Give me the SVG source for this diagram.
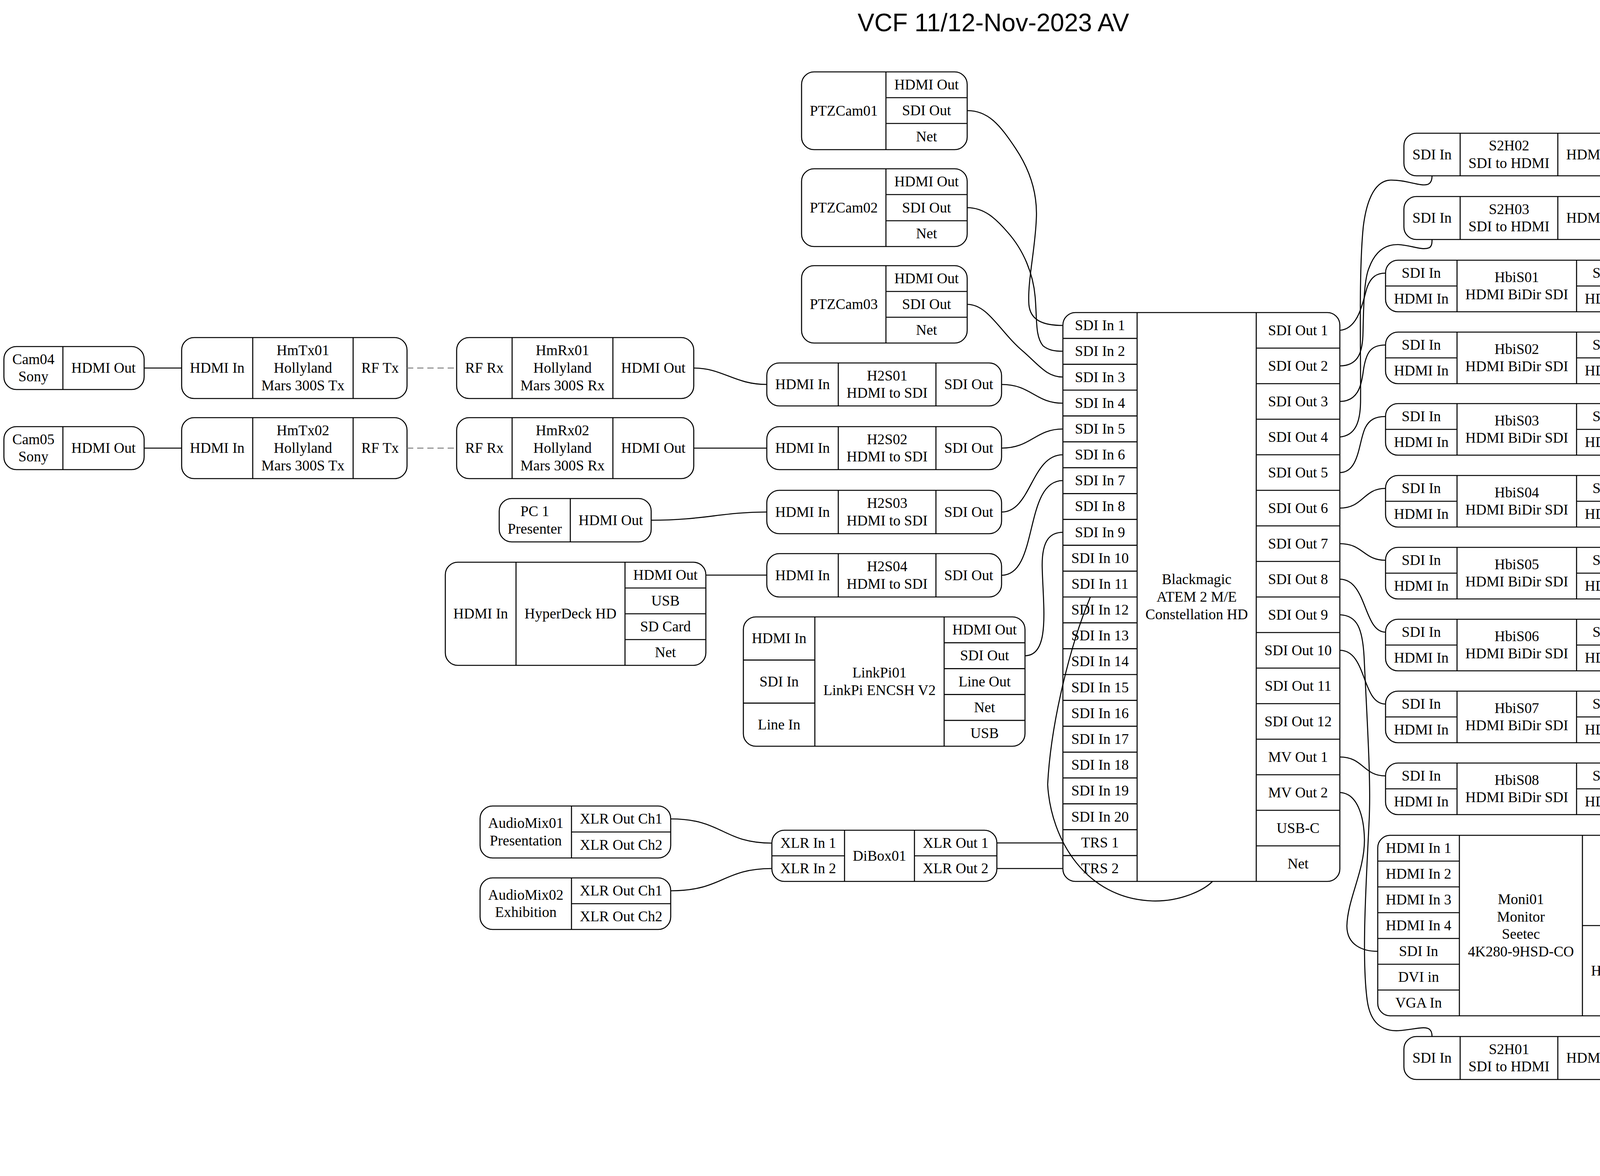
<svg xmlns="http://www.w3.org/2000/svg" width="5086" height="3010" viewBox="0 0 5086 3010">
<style>
.b{fill:none;stroke:#000;stroke-width:2.67}
.l{stroke:#000;stroke-width:2.67}
text{font-family:"Liberation Serif","Times New Roman",serif;font-size:37.33px;text-anchor:middle;fill:#000}
.t{font-family:"Liberation Sans",Arial,sans-serif;font-size:64px}
.e{fill:none;stroke:#000;stroke-width:2.67}
.d{fill:none;stroke:#808080;stroke-width:2.67;stroke-dasharray:16,10}
</style>
<rect width="5086" height="3010" fill="#fff"/>
<text class="t" x="2543" y="80">VCF 11/12-Nov-2023 AV</text>

<g id="Cam04"><rect class="b" x="10" y="887" width="359" height="110" rx="32"/><line class="l" x1="161" y1="887" x2="161" y2="997"/>
<text x="85.5" y="931.6">Cam04</text><text x="85.5" y="976.4">Sony</text><text x="265" y="954">HDMI Out</text></g>
<g id="Cam05"><rect class="b" x="10" y="1092" width="359" height="110" rx="32"/><line class="l" x1="161" y1="1092" x2="161" y2="1202"/>
<text x="85.5" y="1136.6">Cam05</text><text x="85.5" y="1181.4">Sony</text><text x="265" y="1159">HDMI Out</text></g>

<g id="HmTx01"><rect class="b" x="465" y="864" width="577" height="156" rx="32"/><line class="l" x1="647" y1="864" x2="647" y2="1020"/><line class="l" x1="904" y1="864" x2="904" y2="1020"/>
<text x="556" y="954">HDMI In</text><text x="775.5" y="909.2">HmTx01</text><text x="775.5" y="954">Hollyland</text><text x="775.5" y="998.8">Mars 300S Tx</text><text x="973" y="954">RF Tx</text></g>
<g id="HmTx02"><rect class="b" x="465" y="1069" width="577" height="156" rx="32"/><line class="l" x1="647" y1="1069" x2="647" y2="1225"/><line class="l" x1="904" y1="1069" x2="904" y2="1225"/>
<text x="556" y="1159">HDMI In</text><text x="775.5" y="1114.2">HmTx02</text><text x="775.5" y="1159">Hollyland</text><text x="775.5" y="1203.8">Mars 300S Tx</text><text x="973" y="1159">RF Tx</text></g>

<g id="HmRx01"><rect class="b" x="1169" y="864" width="607" height="156" rx="32"/><line class="l" x1="1311" y1="864" x2="1311" y2="1020"/><line class="l" x1="1569" y1="864" x2="1569" y2="1020"/>
<text x="1240" y="954">RF Rx</text><text x="1440" y="909.2">HmRx01</text><text x="1440" y="954">Hollyland</text><text x="1440" y="998.8">Mars 300S Rx</text><text x="1672.5" y="954">HDMI Out</text></g>
<g id="HmRx02"><rect class="b" x="1169" y="1069" width="607" height="156" rx="32"/><line class="l" x1="1311" y1="1069" x2="1311" y2="1225"/><line class="l" x1="1569" y1="1069" x2="1569" y2="1225"/>
<text x="1240" y="1159">RF Rx</text><text x="1440" y="1114.2">HmRx02</text><text x="1440" y="1159">Hollyland</text><text x="1440" y="1203.8">Mars 300S Rx</text><text x="1672.5" y="1159">HDMI Out</text></g>

<g id="PTZCam01"><rect class="b" x="2052" y="184" width="424" height="199" rx="32"/><line class="l" x1="2268" y1="184" x2="2268" y2="383"/><line class="l" x1="2268" y1="250" x2="2476" y2="250"/><line class="l" x1="2268" y1="316" x2="2476" y2="316"/>
<text x="2160" y="295.5">PTZCam01</text><text x="2372" y="229">HDMI Out</text><text x="2372" y="295">SDI Out</text><text x="2372" y="361.5">Net</text></g>
<g id="PTZCam02"><rect class="b" x="2052" y="432" width="424" height="199" rx="32"/><line class="l" x1="2268" y1="432" x2="2268" y2="631"/><line class="l" x1="2268" y1="498" x2="2476" y2="498"/><line class="l" x1="2268" y1="565" x2="2476" y2="565"/>
<text x="2160" y="543.5">PTZCam02</text><text x="2372" y="477">HDMI Out</text><text x="2372" y="543.5">SDI Out</text><text x="2372" y="610">Net</text></g>
<g id="PTZCam03"><rect class="b" x="2052" y="680" width="424" height="198" rx="32"/><line class="l" x1="2268" y1="680" x2="2268" y2="878"/><line class="l" x1="2268" y1="746" x2="2476" y2="746"/><line class="l" x1="2268" y1="812" x2="2476" y2="812"/>
<text x="2160" y="791">PTZCam03</text><text x="2372" y="725">HDMI Out</text><text x="2372" y="791">SDI Out</text><text x="2372" y="857">Net</text></g>

<g id="H2S01"><rect class="b" x="1963" y="929" width="601" height="110" rx="32"/><line class="l" x1="2146" y1="929" x2="2146" y2="1039"/><line class="l" x1="2396" y1="929" x2="2396" y2="1039"/>
<text x="2054.5" y="996">HDMI In</text><text x="2271" y="973.6">H2S01</text><text x="2271" y="1018.4">HDMI to SDI</text><text x="2480" y="996">SDI Out</text></g>
<g id="H2S02"><rect class="b" x="1963" y="1092" width="601" height="110" rx="32"/><line class="l" x1="2146" y1="1092" x2="2146" y2="1202"/><line class="l" x1="2396" y1="1092" x2="2396" y2="1202"/>
<text x="2054.5" y="1159">HDMI In</text><text x="2271" y="1136.6">H2S02</text><text x="2271" y="1181.4">HDMI to SDI</text><text x="2480" y="1159">SDI Out</text></g>
<g id="H2S03"><rect class="b" x="1963" y="1255" width="601" height="111" rx="32"/><line class="l" x1="2146" y1="1255" x2="2146" y2="1366"/><line class="l" x1="2396" y1="1255" x2="2396" y2="1366"/>
<text x="2054.5" y="1322.5">HDMI In</text><text x="2271" y="1300.1">H2S03</text><text x="2271" y="1344.9">HDMI to SDI</text><text x="2480" y="1322.5">SDI Out</text></g>
<g id="H2S04"><rect class="b" x="1963" y="1417" width="601" height="111" rx="32"/><line class="l" x1="2146" y1="1417" x2="2146" y2="1528"/><line class="l" x1="2396" y1="1417" x2="2396" y2="1528"/>
<text x="2054.5" y="1484.5">HDMI In</text><text x="2271" y="1462.1">H2S04</text><text x="2271" y="1506.9">HDMI to SDI</text><text x="2480" y="1484.5">SDI Out</text></g>

<g id="PC1"><rect class="b" x="1278" y="1276" width="389" height="111" rx="32"/><line class="l" x1="1460" y1="1276" x2="1460" y2="1387"/>
<text x="1369" y="1321.1">PC 1</text><text x="1369" y="1365.9">Presenter</text><text x="1563.5" y="1343.5">HDMI Out</text></g>

<g id="HyperDeck"><rect class="b" x="1140" y="1439" width="667" height="264" rx="32"/><line class="l" x1="1321" y1="1439" x2="1321" y2="1703"/><line class="l" x1="1600" y1="1439" x2="1600" y2="1703"/>
<line class="l" x1="1600" y1="1505" x2="1807" y2="1505"/><line class="l" x1="1600" y1="1571" x2="1807" y2="1571"/><line class="l" x1="1600" y1="1637" x2="1807" y2="1637"/>
<text x="1230.5" y="1583">HDMI In</text><text x="1460.5" y="1583">HyperDeck HD</text><text x="1703.5" y="1484">HDMI Out</text><text x="1703.5" y="1550">USB</text><text x="1703.5" y="1616">SD Card</text><text x="1703.5" y="1682">Net</text></g>

<g id="LinkPi01"><rect class="b" x="1903" y="1579" width="721" height="331" rx="32"/><line class="l" x1="2086" y1="1579" x2="2086" y2="1910"/><line class="l" x1="2417" y1="1579" x2="2417" y2="1910"/>
<line class="l" x1="1903" y1="1689.3" x2="2086" y2="1689.3"/><line class="l" x1="1903" y1="1799.7" x2="2086" y2="1799.7"/>
<line class="l" x1="2417" y1="1645.2" x2="2624" y2="1645.2"/><line class="l" x1="2417" y1="1711.4" x2="2624" y2="1711.4"/><line class="l" x1="2417" y1="1777.6" x2="2624" y2="1777.6"/><line class="l" x1="2417" y1="1843.8" x2="2624" y2="1843.8"/>
<text x="1994.5" y="1646">HDMI In</text><text x="1994.5" y="1756.5">SDI In</text><text x="1994.5" y="1867">Line In</text>
<text x="2251.5" y="1734.1">LinkPi01</text><text x="2251.5" y="1778.9">LinkPi ENCSH V2</text>
<text x="2520.5" y="1624.1">HDMI Out</text><text x="2520.5" y="1690.3">SDI Out</text><text x="2520.5" y="1756.5">Line Out</text><text x="2520.5" y="1822.7">Net</text><text x="2520.5" y="1888.9">USB</text></g>

<g id="ATEM2ME"><rect class="b" x="2721" y="800" width="709" height="1456" rx="32"/><line class="l" x1="2911" y1="800" x2="2911" y2="2256"/><line class="l" x1="3216" y1="800" x2="3216" y2="2256"/>
<g class="l">
<line x1="2721" y1="866.2" x2="2911" y2="866.2"/><line x1="2721" y1="932.4" x2="2911" y2="932.4"/><line x1="2721" y1="998.5" x2="2911" y2="998.5"/><line x1="2721" y1="1064.7" x2="2911" y2="1064.7"/><line x1="2721" y1="1130.9" x2="2911" y2="1130.9"/><line x1="2721" y1="1197.1" x2="2911" y2="1197.1"/><line x1="2721" y1="1263.3" x2="2911" y2="1263.3"/><line x1="2721" y1="1329.4" x2="2911" y2="1329.4"/><line x1="2721" y1="1395.6" x2="2911" y2="1395.6"/><line x1="2721" y1="1461.8" x2="2911" y2="1461.8"/><line x1="2721" y1="1528" x2="2911" y2="1528"/><line x1="2721" y1="1594.2" x2="2911" y2="1594.2"/><line x1="2721" y1="1660.3" x2="2911" y2="1660.3"/><line x1="2721" y1="1726.5" x2="2911" y2="1726.5"/><line x1="2721" y1="1792.7" x2="2911" y2="1792.7"/><line x1="2721" y1="1858.9" x2="2911" y2="1858.9"/><line x1="2721" y1="1925.1" x2="2911" y2="1925.1"/><line x1="2721" y1="1991.2" x2="2911" y2="1991.2"/><line x1="2721" y1="2057.4" x2="2911" y2="2057.4"/><line x1="2721" y1="2123.6" x2="2911" y2="2123.6"/><line x1="2721" y1="2189.8" x2="2911" y2="2189.8"/>
<line x1="3216" y1="891" x2="3430" y2="891"/><line x1="3216" y1="982" x2="3430" y2="982"/><line x1="3216" y1="1073" x2="3430" y2="1073"/><line x1="3216" y1="1164" x2="3430" y2="1164"/><line x1="3216" y1="1255" x2="3430" y2="1255"/><line x1="3216" y1="1346" x2="3430" y2="1346"/><line x1="3216" y1="1437" x2="3430" y2="1437"/><line x1="3216" y1="1528" x2="3430" y2="1528"/><line x1="3216" y1="1619" x2="3430" y2="1619"/><line x1="3216" y1="1710" x2="3430" y2="1710"/><line x1="3216" y1="1801" x2="3430" y2="1801"/><line x1="3216" y1="1892" x2="3430" y2="1892"/><line x1="3216" y1="1983" x2="3430" y2="1983"/><line x1="3216" y1="2074" x2="3430" y2="2074"/><line x1="3216" y1="2165" x2="3430" y2="2165"/>
</g>
<text x="2816" y="845.1">SDI In 1</text><text x="2816" y="911.3">SDI In 2</text><text x="2816" y="977.5">SDI In 3</text><text x="2816" y="1043.6">SDI In 4</text><text x="2816" y="1109.8">SDI In 5</text><text x="2816" y="1176">SDI In 6</text><text x="2816" y="1242.2">SDI In 7</text><text x="2816" y="1308.4">SDI In 8</text><text x="2816" y="1374.5">SDI In 9</text><text x="2816" y="1440.7">SDI In 10</text><text x="2816" y="1506.9">SDI In 11</text><text x="2816" y="1573.1">SDI In 12</text><text x="2816" y="1639.3">SDI In 13</text><text x="2816" y="1705.4">SDI In 14</text><text x="2816" y="1771.6">SDI In 15</text><text x="2816" y="1837.8">SDI In 16</text><text x="2816" y="1904">SDI In 17</text><text x="2816" y="1970.2">SDI In 18</text><text x="2816" y="2036.3">SDI In 19</text><text x="2816" y="2102.5">SDI In 20</text><text x="2816" y="2168.7">TRS 1</text><text x="2816" y="2234.9">TRS 2</text>
<text x="3063.5" y="1495.2">Blackmagic</text><text x="3063.5" y="1540">ATEM 2 M/E</text><text x="3063.5" y="1584.8">Constellation HD</text>
<text x="3323" y="857.5">SDI Out 1</text><text x="3323" y="948.5">SDI Out 2</text><text x="3323" y="1039.5">SDI Out 3</text><text x="3323" y="1130.5">SDI Out 4</text><text x="3323" y="1221.5">SDI Out 5</text><text x="3323" y="1312.5">SDI Out 6</text><text x="3323" y="1403.5">SDI Out 7</text><text x="3323" y="1494.5">SDI Out 8</text><text x="3323" y="1585.5">SDI Out 9</text><text x="3323" y="1676.5">SDI Out 10</text><text x="3323" y="1767.5">SDI Out 11</text><text x="3323" y="1858.5">SDI Out 12</text><text x="3323" y="1949.5">MV Out 1</text><text x="3323" y="2040.5">MV Out 2</text><text x="3323" y="2131.5">USB-C</text><text x="3323" y="2222.5">Net</text></g>

<g id="AudioMix01"><rect class="b" x="1229" y="2063" width="488" height="133" rx="32"/><line class="l" x1="1463" y1="2063" x2="1463" y2="2196"/><line class="l" x1="1463" y1="2129.5" x2="1717" y2="2129.5"/>
<text x="1346" y="2119.1">AudioMix01</text><text x="1346" y="2163.9">Presentation</text><text x="1590" y="2108.2">XLR Out Ch1</text><text x="1590" y="2174.8">XLR Out Ch2</text></g>
<g id="AudioMix02"><rect class="b" x="1229" y="2247" width="488" height="132" rx="32"/><line class="l" x1="1463" y1="2247" x2="1463" y2="2379"/><line class="l" x1="1463" y1="2313" x2="1717" y2="2313"/>
<text x="1346" y="2302.6">AudioMix02</text><text x="1346" y="2347.4">Exhibition</text><text x="1590" y="2292">XLR Out Ch1</text><text x="1590" y="2358">XLR Out Ch2</text></g>
<g id="DiBox01"><rect class="b" x="1976" y="2125" width="576" height="131" rx="32"/><line class="l" x1="2162" y1="2125" x2="2162" y2="2256"/><line class="l" x1="2341" y1="2125" x2="2341" y2="2256"/>
<line class="l" x1="1976" y1="2190.5" x2="2162" y2="2190.5"/><line class="l" x1="2341" y1="2190.5" x2="2552" y2="2190.5"/>
<text x="2069" y="2169.8">XLR In 1</text><text x="2069" y="2235.2">XLR In 2</text><text x="2251.5" y="2202.5">DiBox01</text><text x="2446.5" y="2169.8">XLR Out 1</text><text x="2446.5" y="2235.2">XLR Out 2</text></g>

<g id="S2H02"><rect class="b" x="3594" y="341" width="602" height="109" rx="32"/><line class="l" x1="3738" y1="341" x2="3738" y2="450"/><line class="l" x1="3988" y1="341" x2="3988" y2="450"/>
<text x="3666" y="407.5">SDI In</text><text x="3863" y="385.1">S2H02</text><text x="3863" y="429.9">SDI to HDMI</text><text x="4092" y="407.5">HDMI Out</text></g>
<g id="S2H03"><rect class="b" x="3594" y="503" width="602" height="110" rx="32"/><line class="l" x1="3738" y1="503" x2="3738" y2="613"/><line class="l" x1="3988" y1="503" x2="3988" y2="613"/>
<text x="3666" y="570">SDI In</text><text x="3863" y="547.6">S2H03</text><text x="3863" y="592.4">SDI to HDMI</text><text x="4092" y="570">HDMI Out</text></g>
<g id="S2H01"><rect class="b" x="3594" y="2653" width="602" height="110" rx="32"/><line class="l" x1="3738" y1="2653" x2="3738" y2="2763"/><line class="l" x1="3988" y1="2653" x2="3988" y2="2763"/>
<text x="3666" y="2720">SDI In</text><text x="3863" y="2697.6">S2H01</text><text x="3863" y="2742.4">SDI to HDMI</text><text x="4092" y="2720">HDMI Out</text></g>
<g id="Beam01"><rect class="b" x="4511" y="341" width="415" height="109" rx="32"/><line class="l" x1="4694" y1="341" x2="4694" y2="450"/>
<text x="4602.5" y="407.5">HDMI In</text><text x="4810" y="385.1">Beam01</text><text x="4810" y="429.9">Pres Beamer</text></g>
<g id="Beam02"><rect class="b" x="4465" y="503" width="508" height="110" rx="32"/><line class="l" x1="4647" y1="503" x2="4647" y2="613"/>
<text x="4556" y="570">HDMI In</text><text x="4810" y="547.6">Beam02</text><text x="4810" y="592.4">Exhibition Beamer</text></g>

<g id="HbiS01"><rect class="b" x="3547" y="666" width="696" height="132" rx="32"/><line class="l" x1="3730" y1="666" x2="3730" y2="798"/><line class="l" x1="4036" y1="666" x2="4036" y2="798"/><line class="l" x1="3547" y1="732" x2="3730" y2="732"/><line class="l" x1="4036" y1="732" x2="4243" y2="732"/>
<text x="3638.5" y="711">SDI In</text><text x="3638.5" y="777">HDMI In</text><text x="3883" y="721.6">HbiS01</text><text x="3883" y="766.4">HDMI BiDir SDI</text><text x="4139.5" y="711">SDI Out</text><text x="4139.5" y="777">HDMI Out</text></g>
<g id="HbiS02"><rect class="b" x="3547" y="850" width="696" height="132" rx="32"/><line class="l" x1="3730" y1="850" x2="3730" y2="982"/><line class="l" x1="4036" y1="850" x2="4036" y2="982"/><line class="l" x1="3547" y1="916" x2="3730" y2="916"/><line class="l" x1="4036" y1="916" x2="4243" y2="916"/>
<text x="3638.5" y="895">SDI In</text><text x="3638.5" y="961">HDMI In</text><text x="3883" y="905.6">HbiS02</text><text x="3883" y="950.4">HDMI BiDir SDI</text><text x="4139.5" y="895">SDI Out</text><text x="4139.5" y="961">HDMI Out</text></g>
<g id="HbiS03"><rect class="b" x="3547" y="1033" width="696" height="132" rx="32"/><line class="l" x1="3730" y1="1033" x2="3730" y2="1165"/><line class="l" x1="4036" y1="1033" x2="4036" y2="1165"/><line class="l" x1="3547" y1="1099" x2="3730" y2="1099"/><line class="l" x1="4036" y1="1099" x2="4243" y2="1099"/>
<text x="3638.5" y="1078">SDI In</text><text x="3638.5" y="1144">HDMI In</text><text x="3883" y="1088.6">HbiS03</text><text x="3883" y="1133.4">HDMI BiDir SDI</text><text x="4139.5" y="1078">SDI Out</text><text x="4139.5" y="1144">HDMI Out</text></g>
<g id="HbiS04"><rect class="b" x="3547" y="1217" width="696" height="132" rx="32"/><line class="l" x1="3730" y1="1217" x2="3730" y2="1349"/><line class="l" x1="4036" y1="1217" x2="4036" y2="1349"/><line class="l" x1="3547" y1="1283" x2="3730" y2="1283"/><line class="l" x1="4036" y1="1283" x2="4243" y2="1283"/>
<text x="3638.5" y="1262">SDI In</text><text x="3638.5" y="1328">HDMI In</text><text x="3883" y="1272.6">HbiS04</text><text x="3883" y="1317.4">HDMI BiDir SDI</text><text x="4139.5" y="1262">SDI Out</text><text x="4139.5" y="1328">HDMI Out</text></g>
<g id="HbiS05"><rect class="b" x="3547" y="1401" width="696" height="132" rx="32"/><line class="l" x1="3730" y1="1401" x2="3730" y2="1533"/><line class="l" x1="4036" y1="1401" x2="4036" y2="1533"/><line class="l" x1="3547" y1="1467" x2="3730" y2="1467"/><line class="l" x1="4036" y1="1467" x2="4243" y2="1467"/>
<text x="3638.5" y="1446">SDI In</text><text x="3638.5" y="1512">HDMI In</text><text x="3883" y="1456.6">HbiS05</text><text x="3883" y="1501.4">HDMI BiDir SDI</text><text x="4139.5" y="1446">SDI Out</text><text x="4139.5" y="1512">HDMI Out</text></g>
<g id="HbiS06"><rect class="b" x="3547" y="1585" width="696" height="132" rx="32"/><line class="l" x1="3730" y1="1585" x2="3730" y2="1717"/><line class="l" x1="4036" y1="1585" x2="4036" y2="1717"/><line class="l" x1="3547" y1="1651" x2="3730" y2="1651"/><line class="l" x1="4036" y1="1651" x2="4243" y2="1651"/>
<text x="3638.5" y="1630">SDI In</text><text x="3638.5" y="1696">HDMI In</text><text x="3883" y="1640.6">HbiS06</text><text x="3883" y="1685.4">HDMI BiDir SDI</text><text x="4139.5" y="1630">SDI Out</text><text x="4139.5" y="1696">HDMI Out</text></g>
<g id="HbiS07"><rect class="b" x="3547" y="1769" width="696" height="132" rx="32"/><line class="l" x1="3730" y1="1769" x2="3730" y2="1901"/><line class="l" x1="4036" y1="1769" x2="4036" y2="1901"/><line class="l" x1="3547" y1="1835" x2="3730" y2="1835"/><line class="l" x1="4036" y1="1835" x2="4243" y2="1835"/>
<text x="3638.5" y="1814">SDI In</text><text x="3638.5" y="1880">HDMI In</text><text x="3883" y="1824.6">HbiS07</text><text x="3883" y="1869.4">HDMI BiDir SDI</text><text x="4139.5" y="1814">SDI Out</text><text x="4139.5" y="1880">HDMI Out</text></g>
<g id="HbiS08"><rect class="b" x="3547" y="1953" width="696" height="132" rx="32"/><line class="l" x1="3730" y1="1953" x2="3730" y2="2085"/><line class="l" x1="4036" y1="1953" x2="4036" y2="2085"/><line class="l" x1="3547" y1="2019" x2="3730" y2="2019"/><line class="l" x1="4036" y1="2019" x2="4243" y2="2019"/>
<text x="3638.5" y="1998">SDI In</text><text x="3638.5" y="2064">HDMI In</text><text x="3883" y="2008.6">HbiS08</text><text x="3883" y="2053.4">HDMI BiDir SDI</text><text x="4139.5" y="1998">SDI Out</text><text x="4139.5" y="2064">HDMI Out</text></g>

<g id="ATEMMini"><rect class="b" x="4380" y="1012" width="677" height="660" rx="32"/><line class="l" x1="4591" y1="1012" x2="4591" y2="1672"/><line class="l" x1="4821" y1="1012" x2="4821" y2="1672"/>
<g class="l"><line x1="4380" y1="1078" x2="4591" y2="1078"/><line x1="4380" y1="1144" x2="4591" y2="1144"/><line x1="4380" y1="1210" x2="4591" y2="1210"/><line x1="4380" y1="1276" x2="4591" y2="1276"/><line x1="4380" y1="1342" x2="4591" y2="1342"/><line x1="4380" y1="1408" x2="4591" y2="1408"/><line x1="4380" y1="1474" x2="4591" y2="1474"/><line x1="4380" y1="1540" x2="4591" y2="1540"/><line x1="4380" y1="1606" x2="4591" y2="1606"/>
<line x1="4821" y1="1122" x2="5057" y2="1122"/><line x1="4821" y1="1232" x2="5057" y2="1232"/><line x1="4821" y1="1342" x2="5057" y2="1342"/><line x1="4821" y1="1452" x2="5057" y2="1452"/><line x1="4821" y1="1562" x2="5057" y2="1562"/></g>
<text x="4485.5" y="1057">Mic 1</text><text x="4485.5" y="1123">Mic 2</text><text x="4485.5" y="1189">HDMI In 1</text><text x="4485.5" y="1255">HDMI In 2</text><text x="4485.5" y="1321">HDMI In 3</text><text x="4485.5" y="1387">HDMI In 4</text><text x="4485.5" y="1453">HDMI In 5</text><text x="4485.5" y="1519">HDMI In 6</text><text x="4485.5" y="1585">HDMI In 7</text><text x="4485.5" y="1651">HDMI In 8</text>
<text x="4706" y="1309.2">Blackmagic</text><text x="4706" y="1354">ATEM Mini</text><text x="4706" y="1398.8">Extr. Iso</text>
<text x="4939" y="1079">HDMI Out 1</text><text x="4939" y="1189">HDMI Out 2</text><text x="4939" y="1299">USB-C 1</text><text x="4939" y="1409">USB-C 2</text><text x="4939" y="1519">Net</text><text x="4939" y="1629">Headphone</text></g>

<g id="Moni01"><rect class="b" x="3527" y="2138" width="738" height="462" rx="32"/><line class="l" x1="3736" y1="2138" x2="3736" y2="2600"/><line class="l" x1="4051" y1="2138" x2="4051" y2="2600"/>
<g class="l"><line x1="3527" y1="2204" x2="3736" y2="2204"/><line x1="3527" y1="2270" x2="3736" y2="2270"/><line x1="3527" y1="2336" x2="3736" y2="2336"/><line x1="3527" y1="2402" x2="3736" y2="2402"/><line x1="3527" y1="2468" x2="3736" y2="2468"/><line x1="3527" y1="2534" x2="3736" y2="2534"/><line x1="4051" y1="2369" x2="4265" y2="2369"/></g>
<text x="3631.5" y="2183">HDMI In 1</text><text x="3631.5" y="2249">HDMI In 2</text><text x="3631.5" y="2315">HDMI In 3</text><text x="3631.5" y="2381">HDMI In 4</text><text x="3631.5" y="2447">SDI In</text><text x="3631.5" y="2513">DVI in</text><text x="3631.5" y="2579">VGA In</text>
<text x="3893.5" y="2313.8">Moni01</text><text x="3893.5" y="2358.6">Monitor</text><text x="3893.5" y="2403.4">Seetec</text><text x="3893.5" y="2448.2">4K280-9HSD-CO</text>
<text x="4158" y="2265.5">SDI Out</text><text x="4158" y="2496.5">Headphone</text></g>

<g id="Moni02"><rect class="b" x="4359" y="2669" width="717" height="330" rx="32"/><line class="l" x1="4571" y1="2669" x2="4571" y2="2999"/><line class="l" x1="4841" y1="2669" x2="4841" y2="2999"/>
<g class="l"><line x1="4359" y1="2751.5" x2="4571" y2="2751.5"/><line x1="4359" y1="2834" x2="4571" y2="2834"/><line x1="4359" y1="2916.5" x2="4571" y2="2916.5"/>
<line x1="4841" y1="2735" x2="5076" y2="2735"/><line x1="4841" y1="2801" x2="5076" y2="2801"/><line x1="4841" y1="2867" x2="5076" y2="2867"/><line x1="4841" y1="2933" x2="5076" y2="2933"/></g>
<text x="4465" y="2722.3">HDMI In 1</text><text x="4465" y="2804.8">HDMI In 2</text><text x="4465" y="2887.3">HDMI In 3</text><text x="4465" y="2969.8">HDMI In 4</text>
<text x="4706" y="2778.8">Moni02</text><text x="4706" y="2823.6">Monitor</text><text x="4706" y="2868.4">Seetec</text><text x="4706" y="2913.2">ATEM156-CO</text>
<text x="4958.5" y="2714">HDMI Out 1</text><text x="4958.5" y="2780">HDMI Out 2</text><text x="4958.5" y="2846">HDMI Out 3</text><text x="4958.5" y="2912">HDMI Out 4</text><text x="4958.5" y="2978">Headphone</text></g>

<g id="connectors">
<path class="e" d="M369,942 L465,942"/>
<path class="e" d="M369,1147 L465,1147"/>
<path class="d" d="M1042,942 L1169,942"/>
<path class="d" d="M1042,1147 L1169,1147"/>
<path class="e" d="M1776,942 C1850,942 1880,984 1963,984"/>
<path class="e" d="M1776,1147 L1963,1147"/>
<path class="e" d="M1667,1331.5 C1800,1331.5 1850,1310.5 1963,1310.5"/>
<path class="e" d="M1807,1472 L1963,1472"/>
<path class="e" d="M2476,283 C2530,283 2560,320 2600,380 C2640,440 2656,500 2653,560 C2650,640 2630,720 2634,780 C2638,820 2670,833 2721,833"/>
<path class="e" d="M2476,531.5 C2520,531.5 2550,560 2580,595 C2620,640 2645,700 2650,760 C2655,820 2650,860 2670,885 C2685,897 2700,899 2721,899"/>
<path class="e" d="M2476,779 C2530,779 2560,850 2620,900 C2660,935 2680,965 2721,965"/>
<path class="e" d="M2564,984 C2640,984 2650,1032 2721,1032"/>
<path class="e" d="M2564,1147 C2640,1147 2650,1098 2721,1098"/>
<path class="e" d="M2564,1310.5 C2640,1310.5 2640,1164 2721,1164"/>
<path class="e" d="M2564,1472.5 C2660,1472.5 2620,1230 2721,1230"/>
<path class="e" d="M2624,1678.3 C2690,1678.3 2670,1550 2668,1450 C2667,1380 2690,1362.5 2721,1362.5"/>
<path class="e" d="M2791,1529 C2740,1650 2690,1850 2682,2008 C2690,2150 2780,2300 2950,2306 C3020,2308 3080,2280 3104,2256"/>
<path class="e" d="M1717,2096 C1850,2096 1850,2158 1976,2158"/>
<path class="e" d="M1717,2280 C1850,2280 1850,2223 1976,2223"/>
<path class="e" d="M2552,2157.5 L2721,2157.5"/>
<path class="e" d="M2552,2223 L2721,2223"/>
<path class="e" d="M3430,845.5 C3480,842 3490,765 3500,735 C3510,708 3525,699 3547,699"/>
<path class="e" d="M3430,936.5 C3475,936 3487,905 3489,860 C3491,800 3490,720 3505,685 C3520,645 3545,625 3580,626 C3615,628 3640,642 3659,634 C3666,630 3666,620 3666,613"/>
<path class="e" d="M3430,1027.5 C3475,1027 3485,990 3490,950 C3497,900 3510,883 3547,883"/>
<path class="e" d="M3430,1118.5 C3470,1115 3482,1080 3483,1030 C3484,900 3478,700 3490,580 C3500,500 3525,462 3560,461 C3600,460 3635,478 3655,472 C3665,468 3666,458 3666,450"/>
<path class="e" d="M3430,1209.5 C3480,1209 3478,1130 3495,1095 C3505,1075 3520,1066 3547,1066"/>
<path class="e" d="M3430,1300.5 C3490,1300.5 3490,1250 3547,1250"/>
<path class="e" d="M3430,1391.5 C3490,1391.5 3490,1434 3547,1434"/>
<path class="e" d="M3430,1482.5 C3500,1482.5 3490,1618 3547,1618"/>
<path class="e" d="M3430,1573.5 C3475,1575 3488,1610 3492,1680 C3500,1850 3510,2000 3505,2100 C3498,2250 3485,2450 3500,2560 C3508,2620 3540,2640 3580,2638 C3620,2635 3650,2625 3660,2635 C3666,2640 3666,2648 3666,2653"/>
<path class="e" d="M3430,1664.5 C3500,1664.5 3485,1802 3547,1802"/>
<path class="e" d="M3430,1937.5 C3490,1937.5 3490,1986 3547,1986"/>
<path class="e" d="M3430,2028.5 C3475,2030 3492,2090 3493,2150 C3493,2230 3450,2300 3448,2370 C3448,2420 3490,2435 3527,2435"/>
<path class="e" d="M4196,395.5 L4511,395.5"/>
<path class="e" d="M4196,558 L4465,558"/>
<path class="e" d="M4196,2708 L4359,2710"/>
<path class="e" d="M4243,765 C4290,765 4318,800 4322,870 C4326,940 4305,1010 4310,1090 C4315,1150 4340,1177 4380,1177"/>
<path class="e" d="M4243,949 C4285,949 4303,975 4308,1020 C4313,1080 4310,1160 4325,1200 C4335,1230 4355,1243 4380,1243"/>
<path class="e" d="M4243,1132 C4290,1132 4300,1190 4315,1240 C4330,1290 4350,1309 4380,1309"/>
<path class="e" d="M4243,1316 C4310,1316 4320,1375 4380,1375"/>
<path class="e" d="M4243,1500 C4310,1500 4320,1441 4380,1441"/>
<path class="e" d="M4243,1684 C4300,1684 4305,1600 4318,1555 C4330,1520 4350,1507 4380,1507"/>
<path class="e" d="M4243,1868 C4295,1868 4305,1800 4307,1720 C4309,1640 4320,1573 4380,1573"/>
<path class="e" d="M4243,2052 C4290,2052 4312,2030 4314,1980 C4316,1900 4300,1780 4305,1710 C4310,1660 4340,1639 4380,1639"/>
</g>
</svg>
